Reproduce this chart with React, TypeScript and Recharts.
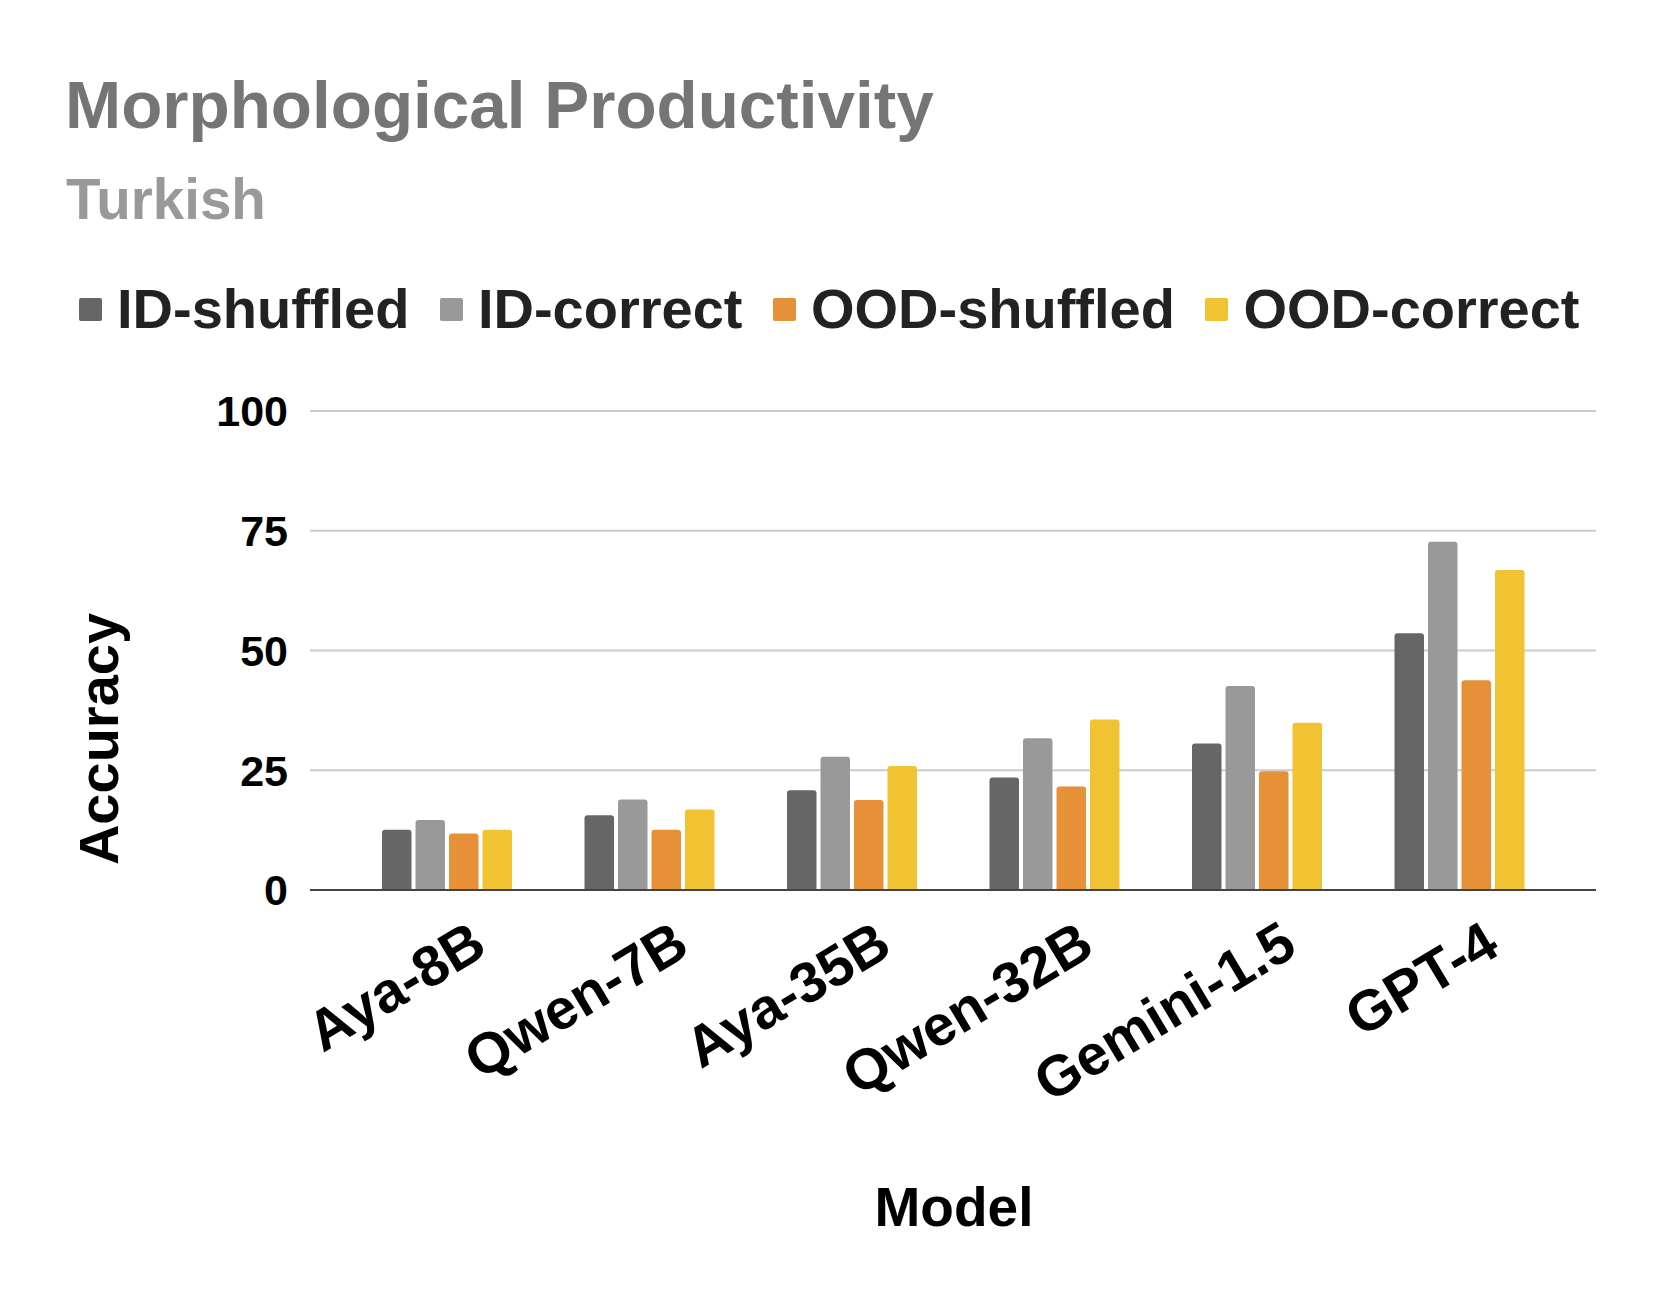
import React from 'react';
import { BarChart, Bar, XAxis, YAxis, CartesianGrid, Legend, Label } from 'recharts';

const models = ['Aya-8B', 'Qwen-7B', 'Aya-35B', 'Qwen-32B', 'Gemini-1.5', 'GPT-4'];
const idShuffled = [12.6, 15.6, 20.8, 23.5, 30.6, 53.6];
const idCorrect = [14.6, 18.9, 27.8, 31.7, 42.6, 72.7];
const oodShuffled = [11.8, 12.6, 18.8, 21.6, 24.8, 43.8];
const oodCorrect = [12.6, 16.8, 25.9, 35.6, 34.9, 66.8];
const yTicks = [0, 25, 50, 75, 100];

const seriesKeys = ['idShuffled', 'idCorrect', 'oodShuffled', 'oodCorrect'];
const seriesNames = ['ID-shuffled', 'ID-correct', 'OOD-shuffled', 'OOD-correct'];
const seriesColors = ['#666666', '#999999', '#e69138', '#f1c232'];

const data = models.map((model, i) => ({
  model,
  idShuffled: idShuffled[i],
  idCorrect: idCorrect[i],
  oodShuffled: oodShuffled[i],
  oodCorrect: oodCorrect[i],
}));

const FONT = "'Liberation Sans', Arial, sans-serif";

const ModelTick = (props: any) => {
  const { x, y, payload } = props;
  return (
    <g transform={`translate(${x + 21},${y + 28})`}>
      <text
        x={0}
        y={41}
        textAnchor="end"
        transform="rotate(-31)"
        fontSize={57}
        fontWeight="bold"
        fill="#000"
        fontFamily={FONT}
      >
        {payload.value}
      </text>
    </g>
  );
};

// legend drawn in series order (recharts sorts the payload by name otherwise)
const renderLegend = () => (
  <div
    style={{
      display: 'flex',
      alignItems: 'center',
      fontFamily: FONT,
      fontSize: 56,
      fontWeight: 'bold',
      lineHeight: '56px',
      color: '#222',
      whiteSpace: 'nowrap',
    }}
  >
    {seriesNames.map((name, i) => (
      <div key={name} style={{ display: 'flex', alignItems: 'center', marginLeft: i === 0 ? 0 : 30.5 }}>
        <span
          style={{
            display: 'inline-block',
            width: 23,
            height: 23,
            borderRadius: 2,
            background: seriesColors[i],
            marginRight: 15,
          }}
        />
        <span>{name}</span>
      </div>
    ))}
  </div>
);

export default function App() {
  return (
    <div style={{ position: 'relative', width: 1661, height: 1305, background: '#fff', fontFamily: FONT }}>
      <style>{'body{margin:0}'}</style>
      <div
        style={{
          position: 'absolute',
          left: 65,
          top: 71,
          fontSize: 67.4,
          lineHeight: '67px',
          fontWeight: 'bold',
          color: '#757575',
          whiteSpace: 'nowrap',
        }}
      >
        Morphological Productivity
      </div>
      <div
        style={{
          position: 'absolute',
          left: 66,
          top: 172,
          fontSize: 56.5,
          lineHeight: '56px',
          fontWeight: 'bold',
          color: '#999999',
        }}
      >
        Turkish
      </div>
      <BarChart
        width={1661}
        height={1305}
        data={data}
        margin={{ top: 411, right: 65, bottom: 215, left: 110 }}
        barSize={29.5}
        barGap={4}
      >
        <CartesianGrid vertical={false} stroke="#cccccc" strokeWidth={2} />
        <XAxis
          dataKey="model"
          height={200}
          padding={{ left: 36, right: 35 }}
          tickLine={false}
          tickSize={0}
          tickMargin={0}
          axisLine={{ stroke: '#444', strokeWidth: 2 }}
          tick={<ModelTick />}
          interval={0}
        >
          <Label
            content={(p: any) => {
              const vb = p.viewBox;
              return (
                <text
                  x={vb.x + vb.width / 2 + 1}
                  y={vb.y + 336}
                  textAnchor="middle"
                  fontSize={55}
                  fontWeight="bold"
                  fill="#000"
                  fontFamily={FONT}
                >
                  Model
                </text>
              );
            }}
          />
        </XAxis>
        <YAxis
          width={200}
          domain={[0, 100]}
          ticks={yTicks}
          axisLine={false}
          tickLine={false}
          tickSize={0}
          tickMargin={22}
          tick={{ fontSize: 43, fontWeight: 'bold', fill: '#000', fontFamily: FONT }}
        >
          <Label
            content={(p: any) => {
              const vb = p.viewBox;
              const cx = 118;
              const cy = vb.y + 328;
              return (
                <text
                  x={cx}
                  y={cy}
                  transform={`rotate(-90 ${cx} ${cy})`}
                  textAnchor="middle"
                  fontSize={56}
                  fontWeight="bold"
                  fill="#000"
                  fontFamily={FONT}
                >
                  Accuracy
                </text>
              );
            }}
          />
        </YAxis>
        <Legend
          layout="horizontal"
          verticalAlign="middle"
          align="center"
          content={renderLegend}
          wrapperStyle={{ position: 'absolute', top: 281, left: 79, width: 'auto', height: 56 }}
        />
        {seriesKeys.map((key, i) => (
          <Bar
            key={key}
            dataKey={key}
            name={seriesNames[i]}
            fill={seriesColors[i]}
            radius={[3, 3, 0, 0]}
            isAnimationActive={false}
          />
        ))}
      </BarChart>
    </div>
  );
}
